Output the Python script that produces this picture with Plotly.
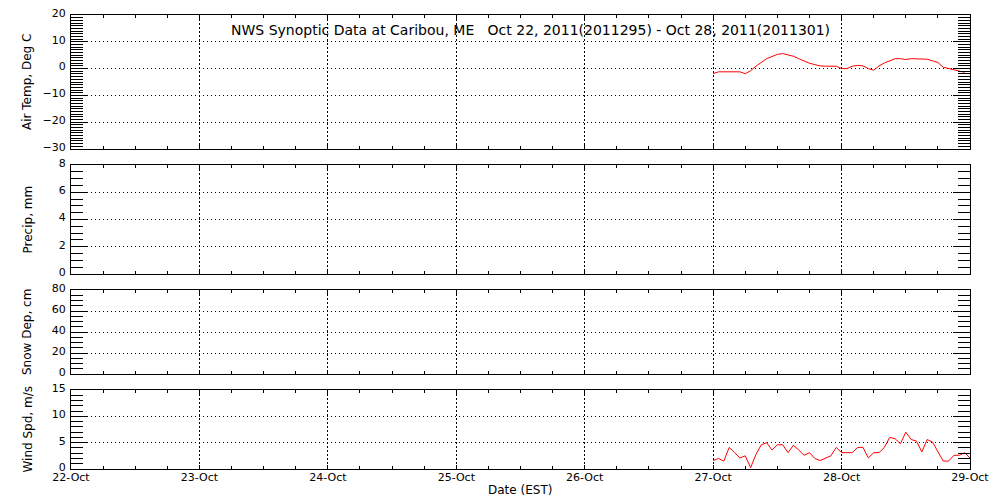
import pandas as pd
import plotly.graph_objects as go

# ---- data ----
title_text = "NWS Synoptic Data at Caribou, ME\u00a0\u00a0\u00a0Oct 22, 2011(2011295) - Oct 28, 2011(2011301)"
x_title = "Date (EST)"

temp_start = "2011-10-27 00:00"
air_temp = [-1.9, -1.2, -1.2, -1.2, -1.2, -1.2, -1.9, -0.8, 0.9, 2.4,
            3.7, 4.5, 5.3, 5.6, 5.1, 4.6, 3.7, 2.8, 2.0, 1.5,
            1.0, 0.9, 0.9, 0.9, 0.0, 0.0, 0.9, 1.2, 1.0, 0.0,
            -0.6, 1.0, 2.1, 2.9, 3.7, 3.7, 3.4, 3.7, 3.6, 3.6,
            3.5, 2.9, 2.3, 0.5, 0.0, -0.4, -1.0, -1.4]

wind_start = "2011-10-27 00:00"
wind_spd = [1.6, 2.0, 1.5, 4.1, 3.1, 2.1, 2.5, 0.25, 2.75, 4.6,
            5.0, 3.6, 4.6, 4.6, 3.1, 4.5, 3.6, 2.6, 3.1, 2.0,
            1.6, 2.1, 2.5, 4.1, 3.1, 3.1, 3.1, 4.1, 4.1, 2.1,
            3.1, 3.1, 4.1, 6.0, 5.75, 4.8, 7.0, 5.6, 5.3, 3.25,
            5.6, 5.1, 3.4, 1.5, 1.5, 2.6, 2.6, 3.1, 2.1]

precip = []
snow_dep = []

x_range = ["2011-10-22 00:00", "2011-10-29 00:00"]

panel_titles = ["Air Temp, Deg C", "Precip, mm", "Snow Dep, cm", "Wind Spd, m/s"]
y_ranges = [[-30, 20], [0, 8], [0, 80], [0, 15]]
y_dticks = [10, 2, 20, 5]
y_minor = [1, 0.5, 5, 1]

# ---- figure ----
temp_times = pd.date_range(temp_start, periods=len(air_temp), freq="h")
wind_times = pd.date_range(wind_start, periods=len(wind_spd), freq="h")

W, H = 1000, 500
OFF = 8  # page body margin


def fx(px):
    return (px - OFF) / W


def fy(py):
    return (H - (py - OFF)) / H


x_dom = [fx(71), fx(970)]
# (top_px, bottom_px)
panels_px = [(15, 149), (165, 274), (290, 374), (390, 469)]

fig = go.Figure()
line_style = dict(color="red", width=1)
fig.add_trace(go.Scatter(x=temp_times, y=air_temp, mode="lines", line=line_style,
                         xaxis="x", yaxis="y", showlegend=False))
fig.add_trace(go.Scatter(x=[], y=precip, mode="lines", line=line_style,
                         xaxis="x2", yaxis="y2", showlegend=False))
fig.add_trace(go.Scatter(x=[], y=snow_dep, mode="lines", line=line_style,
                         xaxis="x3", yaxis="y3", showlegend=False))
fig.add_trace(go.Scatter(x=wind_times, y=wind_spd, mode="lines", line=line_style,
                         xaxis="x4", yaxis="y4", showlegend=False))

fam = "DejaVu Sans"
layout = dict(
    template="none",
    width=W, height=H,
    margin=dict(l=0, r=0, t=0, b=0, pad=0, autoexpand=False),
    paper_bgcolor="white", plot_bgcolor="white",
    font=dict(family=fam, size=11, color="black"),
    showlegend=False,
)

for i in range(4):
    n = "" if i == 0 else str(i + 1)
    top, bot = panels_px[i]
    ydom = [fy(bot), fy(top)]
    last = (i == 3)
    layout["xaxis" + n] = dict(
        domain=x_dom, anchor="y" + n, type="date", range=x_range, automargin=False,
        showline=True, linecolor="black", linewidth=1, mirror="ticks",
        ticks="inside", ticklen=4, tickcolor="black",
        dtick=86400000, tick0="2011-10-22", tickformat="%d-%b",
        showticklabels=last, tickfont=dict(family=fam, size=11, color="black"),
        ticklabelstandoff=-2, ticklabeloverflow="allow",
        showgrid=True, gridcolor="black", gridwidth=1, griddash="2px,2px",
        minor=dict(ticks="inside", ticklen=3, dtick=21600000, tickcolor="black", showgrid=False),
        zeroline=False, fixedrange=True,
    )
    if i > 0:
        layout["xaxis" + n]["matches"] = "x"
    layout["yaxis" + n] = dict(
        domain=ydom, anchor="x" + n, range=y_ranges[i], dtick=y_dticks[i], tick0=0,
        automargin=False,
        showline=True, linecolor="black", linewidth=1, mirror="ticks",
        ticks="inside", ticklen=17, tickcolor="black",
        tickfont=dict(family=fam, size=11, color="black"),
        showgrid=True, gridcolor="black", gridwidth=1, griddash="1px,3px",
        minor=dict(ticks="inside", ticklen=12, dtick=y_minor[i], tick0=0,
                   tickcolor="black", showgrid=False),
        zeroline=False, fixedrange=True, ticklabelstandoff=2, ticklabelshift=-2,
        ticklabeloverflow="allow",
    )

annotations = [
    dict(text=title_text, xref="paper", yref="paper",
         x=fx(530), y=fy(30), xanchor="center", yanchor="middle",
         showarrow=False, font=dict(family=fam, size=14, color="black")),
    dict(text=x_title, xref="paper", yref="paper",
         x=fx(520), y=fy(490), xanchor="center", yanchor="middle",
         showarrow=False, font=dict(family=fam, size=12, color="black")),
]
for i in range(4):
    top, bot = panels_px[i]
    annotations.append(dict(text=panel_titles[i], xref="paper", yref="paper",
                            x=fx(27), y=fy((top + bot) / 2),
                            xanchor="center", yanchor="middle", textangle=-90,
                            showarrow=False,
                            font=dict(family=fam, size=12, color="black")))
layout["annotations"] = annotations

fig.update_layout(**layout)
fig.write_html("out.html")
